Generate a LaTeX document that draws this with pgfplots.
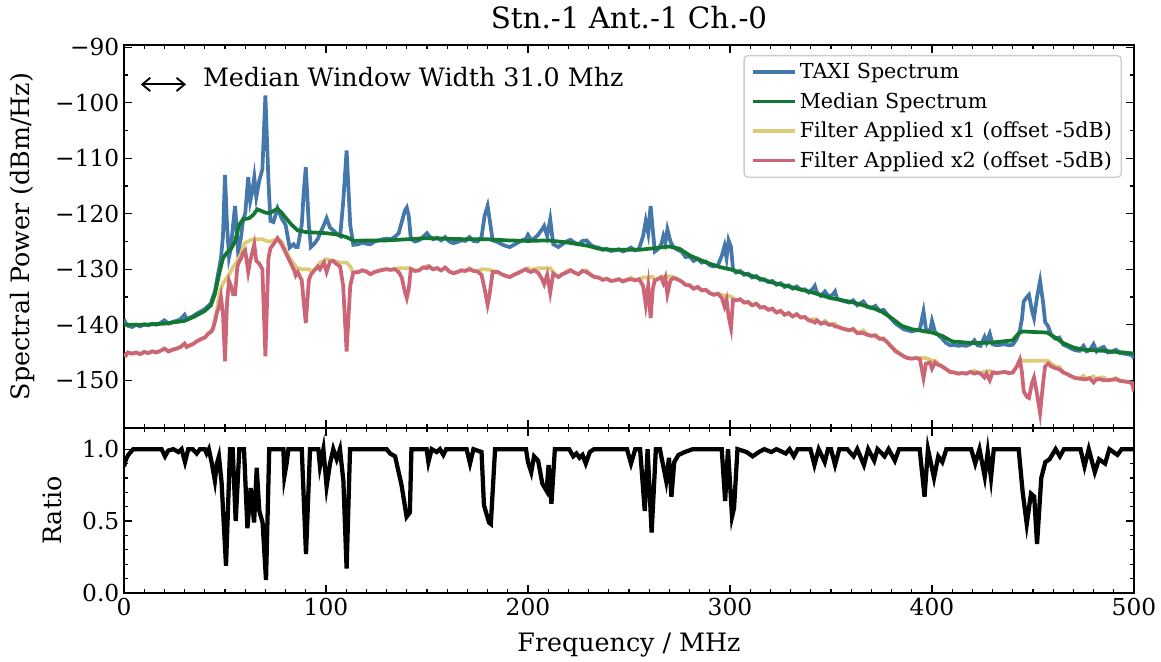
\documentclass[border=0pt]{standalone}
\usepackage{fontspec}
\setmainfont{DejaVu Serif}
\usepackage{pgfplots}
\usepackage{pgfplotstable}
\usetikzlibrary{arrows.meta}
\pgfplotsset{compat=1.18}
\definecolor{cblue}{HTML}{4477AA}
\definecolor{cgreen}{HTML}{117733}
\definecolor{cyellow}{HTML}{DDCC77}
\definecolor{cred}{HTML}{CC6677}

\pgfplotstableread{
f b y r
0 -139.0 -145.3 -145.3
1 -139.8 -145.5 -145.5
2 -140.2 -145.0 -145.0
4 -140.4 -145.2 -145.2
6 -140.0 -145.0 -145.0
8 -140.3 -145.3 -145.3
10 -139.9 -144.9 -144.9
12 -140.1 -145.1 -145.1
14 -139.8 -144.8 -144.8
16 -140.0 -145.0 -145.0
18 -139.7 -144.7 -144.7
20 -139.2 -144.3 -144.3
22 -139.8 -144.8 -144.8
24 -139.5 -144.5 -144.5
26 -139.3 -144.3 -144.3
28 -139.0 -144.0 -144.0
30 -138.2 -143.4 -143.4
31 -139.0 -144.0 -144.0
32 -138.8 -143.8 -143.8
34 -138.5 -143.5 -143.5
36 -138.0 -143.0 -143.0
38 -137.6 -142.6 -142.6
40 -137.2 -142.3 -142.3
42 -136.5 -141.5 -141.5
43 -136.2 -141.3 -141.3
44 -135.0 -140.5 -140.8
45 -134.0 -139.0 -139.5
46 -132.0 -137.5 -137.8
47 -130.0 -135.0 -136.9
48 -128.0 -133.5 -135.0
49 -124.0 -132.5 -138.0
50 -113.0 -132.1 -146.6
51 -122.0 -131.5 -136.0
52 -127.8 -131.0 -132.1
53 -126.0 -130.3 -133.0
54 -122.0 -129.6 -134.5
55 -118.6 -129.2 -134.5
56 -124.0 -128.5 -130.0
56.5 -127.0 -128.2 -129.0
58 -124.0 -127.2 -128.0
59 -121.0 -126.0 -127.0
60 -120.0 -125.2 -126.6
61.5 -113.4 -125.0 -130.5
62.5 -117.7 -124.8 -128.5
63.5 -116.0 -124.6 -127.0
64.5 -113.4 -124.6 -125.5
65.5 -117.0 -124.6 -128.5
67 -114.0 -124.6 -129.0
68.5 -112.0 -124.6 -130.0
70 -98.7 -124.8 -145.7
71.5 -114.0 -125.0 -128.0
72.5 -121.3 -125.0 -126.2
74 -121.5 -124.8 -125.5
76 -119.0 -124.6 -124.4
78 -120.8 -125.0 -125.5
80 -122.0 -126.5 -127.0
82 -126.1 -128.0 -128.5
84 -125.5 -129.0 -130.0
85 -126.0 -129.5 -131.1
86 -126.0 -129.8 -130.5
88 -122.0 -130.0 -132.0
89 -116.0 -130.0 -136.0
90 -111.6 -130.0 -139.7
91.5 -122.0 -130.0 -132.0
92.5 -126.0 -130.3 -131.0
94 -125.5 -130.2 -130.3
96 -124.5 -129.5 -129.5
97 -123.6 -128.8 -130.0
99 -122.0 -128.5 -128.8
100.3 -120.8 -128.2 -130.5
102 -122.5 -128.4 -128.6
103.6 -123.0 -128.5 -128.5
105 -123.5 -128.6 -129.0
107 -124.0 -128.8 -129.5
108.5 -118.0 -128.8 -133.0
110.2 -108.6 -128.8 -144.8
112 -122.0 -129.5 -133.0
113.5 -125.6 -130.6 -130.6
116 -125.5 -130.5 -130.5
118 -125.2 -130.2 -130.2
120 -125.4 -130.4 -130.4
122 -125.5 -130.9 -130.9
124 -125.0 -130.5 -130.5
126 -124.8 -130.3 -130.3
128 -124.6 -130.1 -130.1
130 -124.5 -130.0 -130.0
132 -124.6 -130.1 -130.1
134 -124.2 -129.9 -130.0
136 -123.5 -129.8 -130.5
137.5 -121.5 -129.8 -131.5
139 -119.5 -129.8 -134.0
140 -118.9 -129.8 -135.2
141 -120.5 -129.8 -133.5
142 -124.5 -129.8 -130.0
144 -125.0 -130.3 -130.3
146 -124.8 -130.2 -130.2
148 -124.2 -129.7 -129.7
150 -123.5 -129.4 -129.8
151 -124.0 -129.5 -129.5
153 -124.6 -130.0 -130.0
155 -124.3 -129.8 -129.8
157 -124.8 -130.2 -130.2
159 -124.2 -129.7 -129.7
161 -125.0 -130.4 -130.4
163 -125.3 -130.7 -130.7
165 -125.1 -130.5 -130.5
167 -124.8 -130.2 -130.2
169 -124.9 -130.3 -130.3
171 -124.2 -129.8 -130.0
173 -124.9 -130.3 -130.3
175 -125.0 -130.4 -130.4
177 -124.2 -130.0 -131.0
178.5 -120.4 -130.0 -133.5
180 -118.6 -130.1 -136.4
181 -121.0 -130.1 -134.5
182.5 -124.8 -130.3 -130.5
185 -125.1 -130.5 -130.5
187 -125.5 -130.9 -130.9
189 -125.8 -131.2 -131.2
191 -126.0 -131.4 -131.4
193 -125.6 -131.0 -131.0
195 -125.2 -130.7 -130.7
197 -124.8 -130.3 -130.3
199 -124.5 -130.0 -130.0
200 -123.8 -129.8 -130.3
201.5 -124.7 -130.1 -130.5
203 -124.5 -130.0 -130.2
205 -123.8 -129.8 -130.6
207 -122.8 -129.8 -131.8
208 -122.2 -129.8 -132.7
209.5 -124.0 -129.8 -131.0
211 -121.0 -129.8 -134.2
212.5 -125.5 -130.5 -130.8
215 -126.0 -131.4 -131.4
217 -125.5 -130.9 -130.9
219 -125.0 -130.4 -130.6
221 -124.7 -130.1 -130.2
223 -125.2 -130.6 -130.6
225 -125.5 -130.9 -130.9
227 -124.9 -130.3 -130.3
229 -124.8 -130.2 -130.5
231 -125.6 -131.0 -131.0
233 -126.0 -131.4 -131.4
235 -126.1 -131.5 -131.5
237 -126.5 -131.9 -131.9
239 -126.3 -131.7 -131.7
241 -126.7 -132.1 -132.1
243 -126.6 -132.0 -132.0
245 -126.4 -131.8 -131.8
247 -126.8 -132.2 -132.2
249 -126.5 -131.9 -131.9
251 -126.1 -131.5 -131.8
253 -126.6 -132.0 -132.0
255 -126.3 -131.8 -131.8
257 -124.0 -131.5 -133.0
258.3 -121.3 -131.5 -136.4
259.5 -123.5 -131.5 -133.0
260.7 -118.6 -131.4 -138.8
261.8 -123.0 -131.4 -133.5
262.8 -126.8 -132.0 -132.0
264 -126.5 -131.8 -131.8
266 -125.5 -131.3 -131.5
267 -124.0 -131.3 -132.5
268 -125.2 -131.3 -131.5
269 -122.8 -131.3 -134.5
270.5 -125.0 -131.3 -132.0
272 -126.0 -131.4 -131.6
274 -126.5 -131.8 -131.8
276 -126.8 -132.2 -132.2
278 -127.8 -132.8 -132.8
280 -127.7 -132.9 -132.9
282 -128.5 -133.5 -133.5
284 -128.1 -133.2 -133.2
286 -128.8 -133.8 -133.8
288 -128.6 -133.7 -133.7
290 -129.3 -134.3 -134.3
292 -129.5 -134.6 -134.6
294 -129.3 -134.4 -134.4
296 -127.5 -134.6 -135.2
297.3 -125.8 -134.8 -136.7
298.3 -128.0 -134.8 -135.5
299.3 -124.8 -134.8 -138.5
300.5 -126.0 -134.9 -140.6
301.5 -130.0 -135.2 -135.5
303 -130.6 -135.6 -135.6
305 -130.3 -135.4 -135.4
307 -131.0 -136.0 -136.0
309 -130.8 -135.9 -135.9
311 -131.5 -136.5 -136.5
313 -131.2 -136.2 -136.2
315 -131.9 -136.9 -136.9
317 -131.8 -136.8 -136.8
319 -132.3 -137.3 -137.3
321 -132.1 -137.1 -137.1
323 -132.8 -137.8 -137.8
325 -132.5 -137.5 -137.5
327 -133.2 -138.2 -138.2
329 -132.9 -137.9 -137.9
331 -133.5 -138.5 -138.5
333 -133.1 -138.1 -138.1
335 -133.7 -138.7 -138.7
337 -133.6 -138.6 -138.6
339 -134.2 -139.2 -139.2
341 -133.5 -139.0 -139.4
342 -133.0 -139.0 -139.6
343 -134.2 -139.2 -139.2
345 -134.8 -139.8 -139.8
347 -134.0 -139.3 -139.6
349 -135.0 -140.0 -140.0
351 -134.5 -139.8 -140.0
352 -134.0 -139.8 -140.3
353 -135.3 -140.3 -140.3
355 -135.6 -140.6 -140.6
357 -135.8 -140.8 -140.8
359 -136.0 -141.0 -141.0
361 -135.6 -140.7 -140.8
363 -136.5 -141.5 -141.5
366 -135.8 -141.0 -141.5
368 -136.8 -141.8 -141.8
370 -137.0 -142.0 -142.0
372 -136.6 -141.8 -142.0
374 -137.5 -142.5 -142.5
376 -137.3 -142.4 -142.6
378 -138.2 -143.2 -143.2
380 -139.0 -144.0 -144.0
382 -139.8 -144.6 -144.8
384 -140.3 -145.2 -145.2
386 -140.8 -145.7 -145.7
388 -141.0 -146.0 -146.0
390 -141.2 -146.1 -146.1
392 -141.0 -146.0 -146.0
394 -140.8 -145.9 -146.2
395.8 -137.6 -146.0 -149.6
397 -140.8 -146.0 -147.0
399 -141.2 -146.3 -146.8
400 -139.3 -146.5 -147.9
401.5 -141.3 -146.5 -146.8
403 -141.8 -147.0 -147.2
405 -142.5 -147.5 -147.5
407 -143.3 -148.0 -148.0
409 -143.7 -148.5 -148.5
411 -143.6 -148.6 -148.6
413 -143.8 -148.8 -148.8
415 -143.7 -148.7 -148.7
417 -143.8 -148.8 -148.8
419 -143.5 -148.5 -148.5
421 -142.8 -148.3 -148.8
422.5 -143.7 -148.6 -148.6
424 -143.8 -148.8 -148.8
426 -142.2 -148.4 -149.5
427 -143.2 -148.4 -148.8
428.6 -141.6 -148.3 -150.0
430 -143.5 -148.5 -148.6
432 -143.7 -148.7 -148.7
434 -143.6 -148.6 -148.6
436 -143.5 -148.5 -148.5
438 -143.7 -148.7 -148.7
440 -143.6 -148.6 -148.6
442 -142.5 -147.5 -147.5
443.5 -141.0 -146.3 -146.3
444.5 -139.0 -146.5 -148.5
445.4 -135.8 -146.5 -152.0
447 -135.0 -146.5 -153.0
448 -134.6 -146.5 -153.2
449.5 -137.5 -146.5 -150.5
450.5 -138.8 -146.5 -149.5
452 -135.0 -146.5 -152.5
453.5 -132.1 -146.5 -155.9
455 -136.0 -146.5 -150.5
456 -139.5 -146.5 -147.5
457.5 -140.3 -146.5 -147.0
459 -141.8 -147.0 -147.5
461 -142.5 -147.5 -147.8
463 -142.3 -147.6 -148.0
465 -143.6 -148.6 -148.6
467 -143.9 -148.9 -148.9
469 -144.3 -149.3 -149.3
471 -144.6 -149.6 -149.6
473 -144.7 -149.7 -149.7
475 -143.8 -149.2 -149.8
476.5 -144.8 -149.8 -149.8
478 -144.6 -149.6 -149.6
480 -143.5 -149.3 -150.4
481.5 -144.8 -149.8 -149.8
483 -144.3 -149.5 -149.8
485 -144.0 -149.5 -150.0
487 -145.0 -150.0 -150.0
489 -144.9 -149.9 -149.9
491 -144.5 -149.6 -149.8
493 -145.1 -150.1 -150.1
495 -145.2 -150.2 -150.2
497 -145.3 -150.3 -150.3
499 -145.5 -150.5 -150.5
500 -146.0 -151.5 -152.0
}\spec

\pgfplotstableread{
f m
0 -140.0
10 -140.0
20 -139.8
30 -139.3
35 -138.5
40 -137.5
43 -136.5
45 -134.5
47 -131.0
49 -128.0
51 -127.0
53 -126.3
55 -125.0
57 -122.0
59 -121.0
62 -120.8
64 -120.2
66 -119.2
68 -119.5
70 -119.8
72 -119.9
74 -119.5
76 -119.1
78 -119.8
80 -120.7
83 -122.0
86 -123.0
90 -123.3
95 -123.4
100 -123.5
105 -123.7
110 -124.2
114 -124.9
120 -124.8
130 -124.8
140 -124.6
150 -124.4
160 -124.5
170 -124.6
180 -124.6
190 -124.8
200 -124.9
210 -124.8
220 -125.2
230 -125.8
235 -126.3
240 -126.5
250 -126.5
255 -126.5
260 -126.3
265 -126.1
270 -125.9
275 -126.3
280 -127.5
285 -128.3
290 -129.0
295 -129.6
300 -130.0
310 -131.1
320 -132.3
330 -133.2
340 -134.1
350 -135.2
360 -135.9
365 -136.4
370 -136.9
375 -137.6
380 -138.8
385 -140.2
390 -140.8
395 -141.1
400 -141.4
405 -142.0
410 -143.0
420 -143.3
430 -143.2
440 -142.8
443 -141.5
445 -141.2
450 -141.3
457 -141.4
461 -142.3
465 -143.3
470 -144.1
475 -144.5
485 -144.7
495 -145.0
500 -145.2
}\med

\pgfplotstableread{
f q
0 0.88
1 0.93
2.1 0.96
4.6 1.0
18.6 1.0
20.3 0.95
21.9 0.99
24.4 1.0
26.9 0.98
28.5 1.0
30.2 0.91
31.8 1.0
34 1.0
36 0.97
37.6 1.0
40 1.0
40.9 0.97
42 1.0
43.5 0.9
45 0.78
46 0.9
47 0.95
48.3 0.77
50.5 0.19
52.5 1.0
53.8 1.0
55.3 0.5
57.1 1.0
59.4 1.0
61.1 0.45
62.7 0.73
64.4 0.49
65.7 0.87
67 0.57
68.6 0.49
70.3 0.09
71.9 1.0
78.9 1.0
79.4 0.81
80.5 0.9
81.4 1.0
88 1.0
90.1 0.27
92.1 1.0
96.2 1.0
97 0.88
98.7 1.0
100.3 0.74
102 0.9
103.6 1.0
105.3 0.93
106.9 1.0
108.6 0.78
110.2 0.17
111.9 1.0
130 1.0
131.7 0.97
134.2 0.95
137.4 0.75
139.9 0.53
141.5 0.56
142.3 1.0
149.8 1.0
150.7 0.91
152.3 1.0
154.8 0.98
156.4 1.0
158.1 0.96
159.5 1.0
169.6 1.0
171.3 0.9
173 1.0
177 0.98
178.2 0.61
180.7 0.49
181.6 0.48
183.7 1.0
199 1.0
200 0.91
201.6 0.84
203 0.95
205 0.92
207.1 0.76
209.2 0.71
210.2 0.89
211.6 0.62
213.3 1.0
220.4 1.0
222.4 0.95
224 0.97
225.5 0.94
227 0.96
228.6 0.9
230.6 0.98
232.7 1.0
249 1.0
251 0.9
253.1 1.0
255.5 1.0
257.8 0.57
259.2 1.0
261.2 0.42
263.3 1.0
265.3 1.0
268.4 0.78
269.8 0.94
271 0.67
272.4 0.91
274.5 0.96
277.6 0.98
281.6 1.0
295.9 1.0
297.6 0.64
299 1.0
301 0.53
302 0.59
303.7 1.0
308.2 0.98
311.2 0.95
314.3 0.98
317 1.0
320.4 0.98
323 1.0
327.6 0.97
329.5 1.0
331.6 0.95
333.5 1.0
336.7 1.0
339.8 1.0
341.8 0.89
343.9 1.0
346.9 0.91
348.5 1.0
350 1.0
352 0.89
354.1 1.0
358 1.0
361.2 0.95
363 1.0
366.3 0.89
368.4 1.0
371.4 0.92
373 1.0
374.5 0.98
376.5 0.95
378.5 1.0
381.6 0.92
383.7 1.0
393.9 1.0
396.3 0.67
398 1.0
401 0.8
403.1 0.95
405.1 0.91
407.1 1.0
419.4 1.0
421.4 0.9
423.5 1.0
426.1 0.81
427.6 0.98
429.2 0.8
430.6 1.0
442.9 1.0
444.9 0.7
446.9 0.48
449 0.69
450.6 0.67
452 0.34
454.1 0.8
456.1 0.91
458.2 0.93
461.2 1.0
463.3 0.95
465.3 1.0
473.5 1.0
475.5 0.88
477.6 1.0
480.6 0.84
482.7 0.93
485.7 0.9
487.8 1.0
491.8 0.96
493.9 1.0
500 1.0
}\ratio

\begin{document}
\begin{tikzpicture}
\pgfplotsset{
  every axis/.append style={
    scale only axis, width=757.5pt, xmin=0, xmax=500,
    tick align=inside, tick pos=both,
    major tick length=6pt, minor tick length=3pt,
    every tick/.style={black, line width=0.9pt},
    axis line style={line width=1.3pt},
    minor x tick num=9,
    tick label style={font=\fontsize{17.5}{20}\selectfont},
    xtick={0,100,...,500},
  },
}
\begin{axis}[name=top, at={(0,0)}, anchor=south west, height=287.25pt,
  ymin=-158.6, ymax=-89.6,
  ytick={-150,-140,...,-90},
  yticklabels={−150,−140,−130,−120,−110,−100,−90},
  minor y tick num=1,
  xticklabels={},
  legend cell align=left,
  legend image code/.code={\draw[#1, line width=2.8pt] (0pt,0pt) -- (32pt,0pt);},
  legend style={at={(rel axis cs:0.988,0.974)}, anchor=north east,
    draw=black!20, line width=1pt, rounded corners=3pt, fill=white,
    fill opacity=0.8, text opacity=1,
    font=\fontsize{15.5}{18}\selectfont, row sep=4.8pt, inner xsep=5pt, inner ysep=4pt},
]
\addplot[cblue, line width=2.8pt] table[x=f, y=b] {\spec};
\addlegendentry{TAXI Spectrum}
\addplot[cgreen, line width=2.8pt] table[x=f, y=m] {\med};
\addlegendentry{Median Spectrum}
\addplot[cyellow, line width=2.8pt] table[x=f, y=y] {\spec};
\addlegendentry{Filter Applied x1 (offset -5dB)}
\addplot[cred, line width=2.8pt] table[x=f, y=r] {\spec};
\addlegendentry{Filter Applied x2 (offset -5dB)}
\draw[{Straight Barb[length=6pt,width=10pt,line width=1.4pt]}-{Straight Barb[length=6pt,width=10pt,line width=1.4pt]}, line width=1.4pt] (axis cs:8.3,-96.7) -- (axis cs:30.7,-96.7);
\node[anchor=base west, font=\fontsize{19}{22}\selectfont] at (axis cs:36.8,-97.0) {Median Window Width 31.0 Mhz};
\end{axis}
\begin{axis}[name=bot, at={(0,0)}, anchor=north west, height=123.75pt,
  ymin=0, ymax=1.147,
  ytick={0,0.5,1}, yticklabels={0.0,0.5,1.0},
  minor y tick num=4,
  xticklabels={0,100,200,300,400,500},
]
\addplot[black, line width=3.2pt] table[x=f, y=q] {\ratio};
\end{axis}
\node[font=\fontsize{22}{26}\selectfont] at ([yshift=20.5pt]top.north) {Stn.-1 Ant.-1 Ch.-0};
\node[rotate=90, font=\fontsize{19}{22}\selectfont] at ([xshift=-76pt]top.west) {Spectral Power (dBm/Hz)};
\node[rotate=90, font=\fontsize{19}{22}\selectfont] at ([xshift=-54pt]bot.west) {Ratio};
\node[font=\fontsize{19}{22}\selectfont] at ([yshift=-39pt]bot.south) {Frequency / MHz};
\pgfresetboundingbox
\path (-93pt,-174.75pt) rectangle (777.75pt,321pt);
\end{tikzpicture}
\end{document}
